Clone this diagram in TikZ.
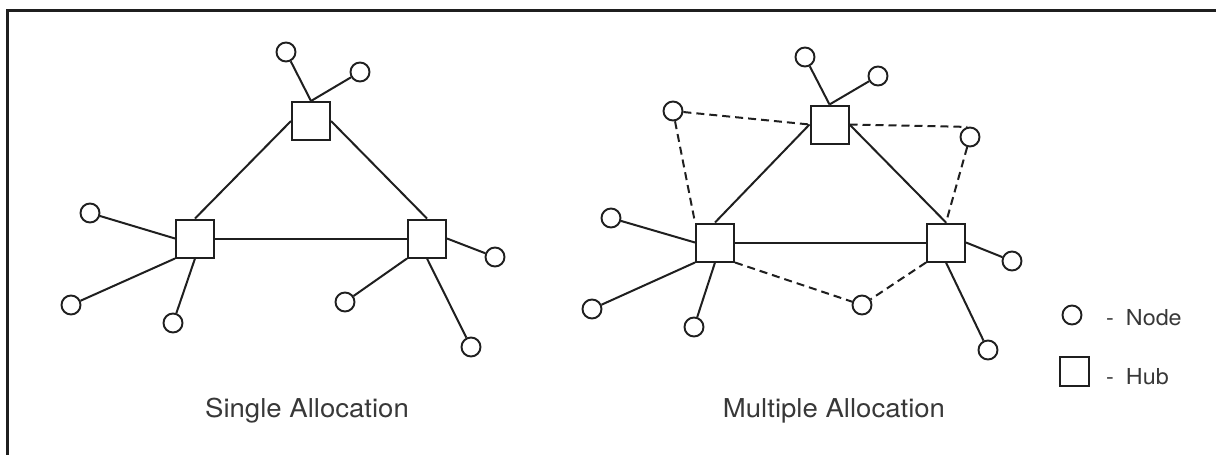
\documentclass[tikz,border=0pt]{standalone}
\usepackage{fontspec}
\setmainfont{TeX Gyre Heros}
\newfontfamily\lblfont[FakeStretch=1.06]{TeX Gyre Heros}
\definecolor{ink}{gray}{0.12}
\definecolor{txt}{gray}{0.22}
\begin{document}
\begin{tikzpicture}[x=1pt,y=-1pt,
  hubbox/.style={draw=ink, line width=2pt, minimum size=38pt, inner sep=0pt},
  nodecirc/.style={circle, draw=ink, line width=1.9pt, minimum size=19pt, inner sep=0pt},
  link/.style={draw=ink, line width=2pt},
  dlink/.style={link, dash pattern=on 8pt off 5pt},
  frameline/.style={draw=ink, line width=2.2pt},
  lbl/.style={font=\lblfont\fontsize{26}{30}\selectfont, text=txt, anchor=base, inner sep=0pt},
  leg/.style={font=\lblfont\fontsize{22}{26}\selectfont, text=txt, anchor=base west, inner sep=0pt}]
\useasboundingbox (0,0) rectangle (1216,455);
\draw[frameline] (1216,10.5) -- (7.5,10.5) -- (7.5,455);

% ---------- Single allocation ----------
\node[hubbox] (A1) at (311,121) {};
\node[hubbox] (A2) at (195,238.5) {};
\node[hubbox] (A3) at (427,238.5) {};
\node[nodecirc] (a1) at (286,52) {};
\node[nodecirc] (a2) at (360,72) {};
\node[nodecirc] (a3) at (90,213) {};
\node[nodecirc] (a4) at (71,305) {};
\node[nodecirc] (a5) at (173,323) {};
\node[nodecirc] (a6) at (495,257) {};
\node[nodecirc] (a7) at (345,302) {};
\node[nodecirc] (a8) at (471,347) {};
\draw[link] (a1) -- (A1.north);
\draw[link] (a2) -- (A1.north);
\draw[link] (A1.west) -- (A2.north);
\draw[link] (A1.east) -- (A3.north);
\draw[link] (A2.east) -- (A3.west);
\draw[link] (a3) -- (A2.west);
\draw[link] (a4) -- (A2.south west);
\draw[link] (a5) -- (A2.south);
\draw[link] (a6) -- (A3.east);
\draw[link] (a7) -- (A3.south west);
\draw[link] (a8) -- (A3.south);
\node[lbl] (L1) at (307,417) {Single Allocation};

% ---------- Multiple allocation ----------
\node[hubbox] (B1) at (829.5,124.5) {};
\node[hubbox] (B2) at (715,242.5) {};
\node[hubbox] (B3) at (946,242.5) {};
\node[nodecirc] (b1) at (805,57) {};
\node[nodecirc] (b2) at (878,76) {};
\node[nodecirc] (b3) at (611,218) {};
\node[nodecirc] (b4) at (592,309) {};
\node[nodecirc] (b5) at (694,327) {};
\node[nodecirc] (b6) at (1012,261) {};
\node[nodecirc] (b7) at (988,350) {};
\node[nodecirc] (d1) at (673,111) {};
\node[nodecirc] (d2) at (970,137) {};
\node[nodecirc] (d3) at (862,305) {};
\draw[link] (b1) -- (B1.north);
\draw[link] (b2) -- (B1.north);
\draw[link] (B1.west) -- (B2.north);
\draw[link] (B1.east) -- (B3.north);
\draw[link] (B2.east) -- (B3.west);
\draw[link] (b3) -- (B2.west);
\draw[link] (b4) -- (B2.south west);
\draw[link] (b5) -- (B2.south);
\draw[link] (b6) -- (B3.east);
\draw[link] (b7) -- (B3.south);
\draw[dlink] (d1) -- (B1.west);
\draw[dlink] (d1) -- (B2.north west);
\draw[dlink] (B1.east) -- (d2.105);
\draw[dlink] (d2) -- (B3.north);
\draw[dlink] (B2.south east) -- (d3);
\draw[dlink] (B3.south west) -- (d3);
\node[lbl] (L2) at (834,417) {Multiple Allocation};

% ---------- Legend ----------
\node[nodecirc] (kc) at (1072,315) {};
\node[leg] (kt1) at (1106,325) {-\hspace{12pt}Node};
\node[hubbox, minimum size=29pt] (kh) at (1074.5,371.5) {};
\node[leg] (kt2) at (1106,384) {-\hspace{12pt}Hub};
\end{tikzpicture}
\end{document}
